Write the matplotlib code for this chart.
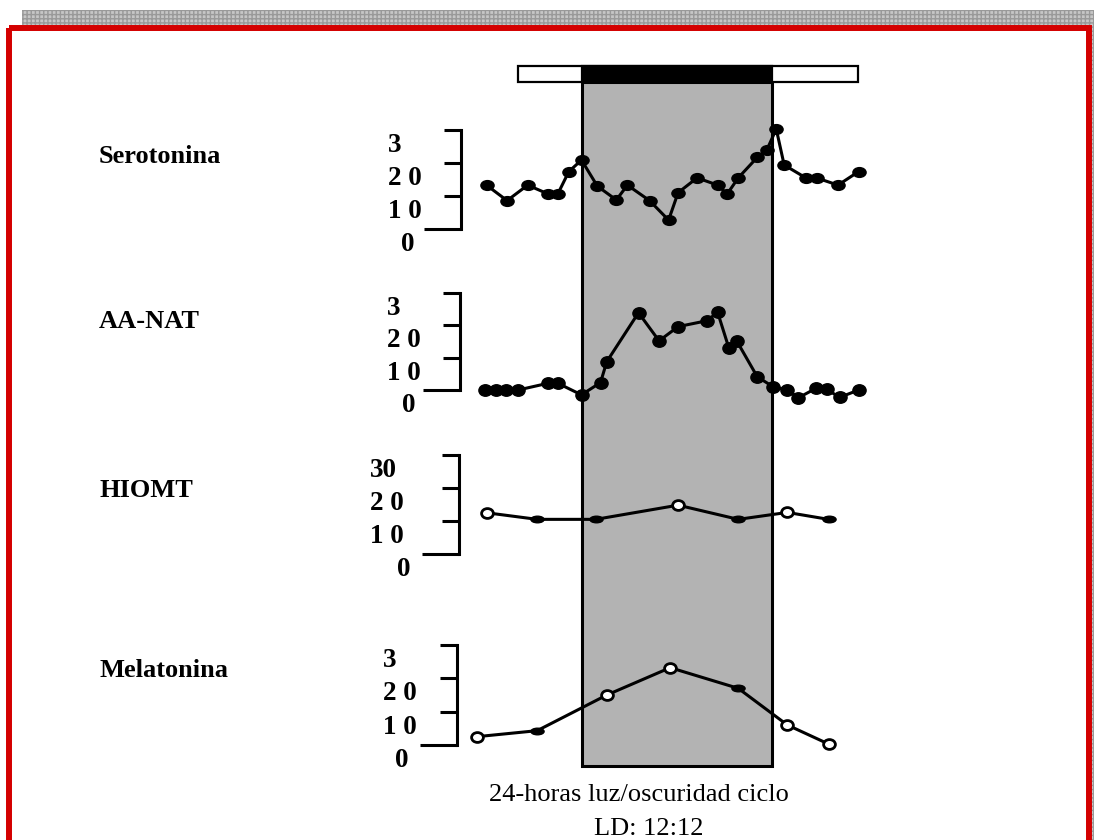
import matplotlib
matplotlib.use('Agg')
import matplotlib.pyplot as plt
from matplotlib.patches import Rectangle
from matplotlib.path import Path

plt.rcParams['font.family'] = ['Liberation Serif', 'DejaVu Serif']

# --------------------------
# DATOS (horas del ciclo)
# --------------------------
dark_start = 12.0
dark_end = 24.0

names = ['Serotonina', 'AA-NAT', 'HIOMT', 'Melatonina']

hours_sero = [6.0, 7.3, 8.6, 9.9, 10.5, 11.2, 12.0, 13.0, 14.2, 14.9, 16.3, 17.5, 18.1,
              19.3, 20.6, 21.2, 21.9, 23.1, 23.7, 24.3, 24.8, 26.2, 26.9, 28.2, 29.5]
sero = [13.3, 8.6, 13.3, 10.6, 10.6, 17.4, 20.9, 13.0, 8.8, 13.3, 8.6, 2.7, 11.0,
        15.5, 13.3, 10.6, 15.5, 21.7, 23.9, 30.3, 19.4, 15.4, 15.4, 13.3, 17.4]

hours_aanat = [5.9, 6.6, 7.2, 8.0, 9.9, 10.5, 12.0, 13.2, 13.6, 15.6, 16.9, 18.1,
               19.9, 20.6, 21.3, 21.8, 23.1, 24.1, 25.0, 25.7, 26.8, 27.5, 28.3, 29.5]
aanat = [0, 0, 0, 0, 2.1, 2.1, -1.5, 2.3, 8.8, 23.9, 15.2, 19.6,
         21.4, 24.0, 13.1, 15.2, 4.1, 1.0, 0, -2.4, 0.5, 0.2, -2.3, 0]

hours_hiomt = [6.0, 9.2, 12.9, 18.1, 21.9, 25.0, 27.6]
hiomt = [12.5, 10.5, 10.5, 14.8, 10.5, 12.6, 10.5]

hours_mel = [5.4, 9.2, 13.6, 17.6, 21.9, 25.0, 27.6]
mel = [2.5, 4.3, 15.0, 23.2, 17.0, 6.0, 0.3]

tick_vals = [0, 10, 20, 30]
tick_labels = [['0', '1 0', '2 0', '3'],
               ['0', '1 0', '2 0', '3'],
               ['0', '1 0', '2 0', '30'],
               ['0', '1 0', '2 0', '3']]

# --------------------------
# GEOMETRIA (pixeles)
# --------------------------
W, H = 1094, 840
DARK_PX = (581.5, 771.5)
PX_PER_H = (DARK_PX[1] - DARK_PX[0]) / (dark_end - dark_start)


def px_to_h(px):
    return dark_start + (px - DARK_PX[0]) / PX_PER_H


def ellipse(aspect):
    c = Path.unit_circle()
    return Path(c.vertices * [aspect, 1.0], c.codes)


# spine x, y(0), y(30), dx etiquetas, dx del "0", baseline del nombre
layout = [
    (460.5, 229, 130, -73, -59, 163),
    (460.0, 390, 293, -73, -58, 328),
    (459.0, 554, 455, -89, -62, 497),
    (457.0, 745, 645, -74, -62, 677),
]

fig = plt.figure(figsize=(W / 100, H / 100), dpi=100)

# fondo: marco rojo y franja gris
bg = fig.add_axes([0, 0, 1, 1], zorder=0)
bg.set_xlim(0, W)
bg.set_ylim(H, 0)
bg.axis('off')
bg.add_patch(Rectangle((22, 10), W - 22, 15, facecolor='#c6c6c6', hatch='++++',
                       edgecolor='#999999', lw=0))
bg.add_patch(Rectangle((1092, 10), 4, H, facecolor='#c6c6c6', hatch='++++',
                       edgecolor='#999999', lw=0))
bg.add_patch(Rectangle((9, 28), 1080, 900, fill=False, edgecolor='#d40000', lw=4.3))

for name, lay in zip(names, layout):
    bg.text(99, lay[5], name, ha='left', va='baseline', fontsize=19, fontweight='bold')

bg.text(639, 801, '24-horas luz/oscuridad ciclo', ha='center', va='baseline', fontsize=19)
bg.text(649, 835, 'LD: 12:12', ha='center', va='baseline', fontsize=19)

# eje temporal: periodo oscuro y barra luz/oscuridad
tax = fig.add_axes([0, 0, 1, 1], zorder=1)
tax.set_xlim(px_to_h(0), px_to_h(W))
tax.set_ylim(H, 0)
tax.axis('off')
tax.patch.set_alpha(0)
tax.add_patch(Rectangle((dark_start, 82), dark_end - dark_start, 684,
                        facecolor='#b3b3b3', edgecolor='black', lw=2.2))
tax.add_patch(Rectangle((px_to_h(518), 66), px_to_h(858) - px_to_h(518), 16,
                        facecolor='white', edgecolor='black', lw=1.6))
tax.add_patch(Rectangle((dark_start, 66), dark_end - dark_start, 16,
                        facecolor='black', edgecolor='black', lw=1.6))

series = [(hours_sero, sero), (hours_aanat, aanat), (hours_hiomt, hiomt), (hours_mel, mel)]
open_idx = [[], [], [0, 3, 5], [0, 2, 3, 5, 6]]

R = 1000
for i, ((hx, hy), lay, labs) in enumerate(zip(series, layout, tick_labels)):
    L, y0, y30, dx, dx0, _ = lay
    ax = fig.add_axes([L / W, 1 - y0 / H, (R - L) / W, (y0 - y30) / H], zorder=2 + i)
    ax.set_xlim(px_to_h(L), px_to_h(R))
    ax.set_ylim(0, 30)
    ax.patch.set_alpha(0)
    for s in ['top', 'right', 'bottom']:
        ax.spines[s].set_visible(False)
    ax.spines['left'].set_linewidth(2.2)
    ax.set_xticks([])
    ax.set_yticks(tick_vals)
    ax.set_yticklabels([])
    ax.tick_params(axis='y', direction='out', length=12, width=2.2)
    ax.yaxis.get_major_ticks()[0].tick1line.set_markersize(27)

    for v, lab in zip(tick_vals, labs):
        ax.annotate(lab, xy=(0, v), xycoords=('axes fraction', 'data'),
                    xytext=(dx0 if v == 0 else dx, -3), textcoords='offset pixels',
                    ha='left', va='top', fontsize=19.5, fontweight='bold',
                    annotation_clip=False)

    ax.plot(hx, hy, color='black', lw=2.2, clip_on=False, zorder=3)
    if i < 2:
        ax.plot(hx, hy, ls='none', marker=ellipse(1.35 if i == 0 else 1.15),
                ms=9.5, color='black', clip_on=False, zorder=4)
    else:
        op = open_idx[i]
        fx = [x for k, x in enumerate(hx) if k not in op]
        fy = [y for k, y in enumerate(hy) if k not in op]
        ox = [x for k, x in enumerate(hx) if k in op]
        oy = [y for k, y in enumerate(hy) if k in op]
        ax.plot(fx, fy, ls='none', marker=ellipse(2.0), ms=9.5, color='black',
                clip_on=False, zorder=4)
        ax.plot(ox, oy, ls='none', marker=ellipse(1.2), ms=8.5, mfc='white',
                mec='black', mew=2.0, clip_on=False, zorder=4)

fig.savefig('out.png', dpi=100)
